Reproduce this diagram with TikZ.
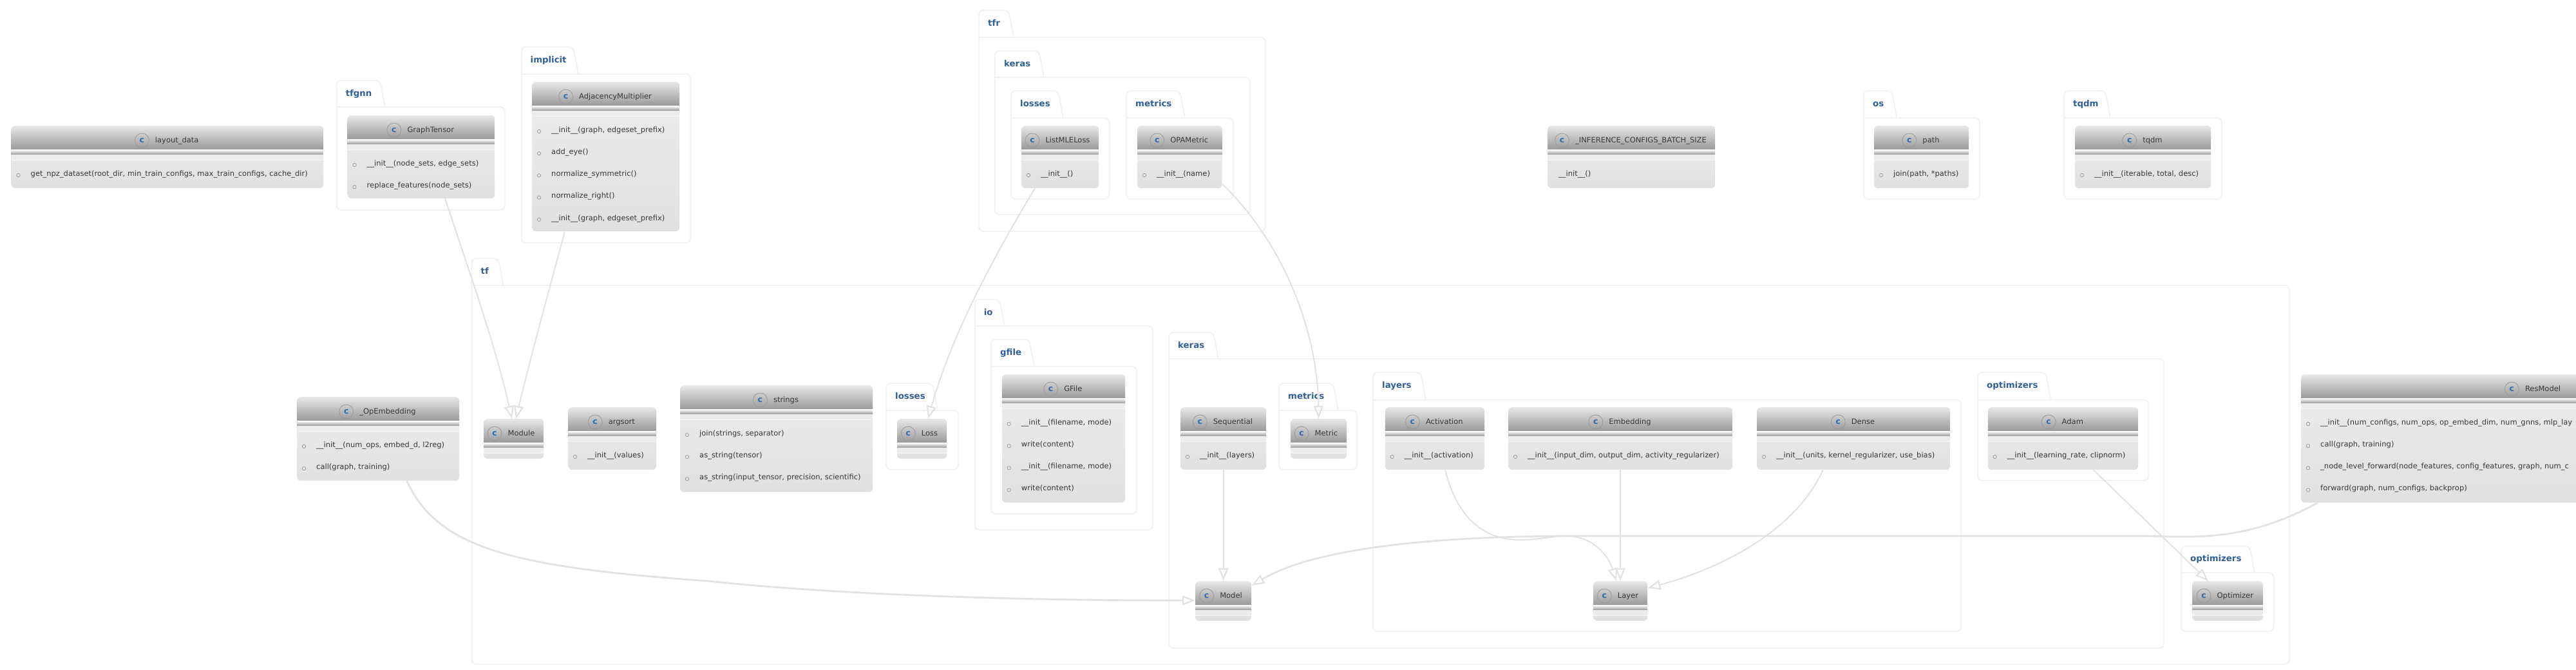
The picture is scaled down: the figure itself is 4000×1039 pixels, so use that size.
\documentclass[tikz,border=0pt]{standalone}
\usepackage{fontspec}
\setmainfont{DejaVu Sans}
\usepackage{xcolor}
\usetikzlibrary{arrows.meta,positioning}

\definecolor{pkgline}{HTML}{F2F2F2}
\definecolor{pkgtext}{HTML}{2F5F96}
\definecolor{edgeline}{HTML}{E2E2E2}
\definecolor{spotblue}{HTML}{2D6DB0}
\definecolor{labeltext}{HTML}{383838}

\newcommand{\umlpackage}[8]{
  \draw[pkgborder] (#4,#6) -- ({#4-8},#5) -- (#3,#5) -- (#3,#8) -- (#7,#8)
    -- (#7,#6) -- (#4,#6);
  \draw[pkgborder] (#3,#6) -- (#4,#6);
  \node[pkglabel] (#1) at ({#3+14},{(#5+#6)/2}) {#2};
}
\newcommand{\umlclass}[6]{
  \node[classbody, minimum width=#4pt, minimum height=#5pt] (#1) at (#2,#3) {};
  \pgfmathsetmacro{\titleoff}{#4<130 ? 12 : 15}
  \node[classtitle] (#1-title) at
    ([xshift={#4/2+\titleoff}, yshift=-23pt]#1.north west) {#6};
  \node[classspot, left=9pt of #1-title] (#1-spot) {c};
}
\newcommand{\umlmethods}[2]{
  \foreach \method [count=\row] in {#2} {
    \node[methodlabel] (#1-m\row) at
      ([xshift=30pt, yshift={-75-34.2*(\row-1)}]#1.north west) {\method};
    \node[methoddot] (#1-d\row) at
      ([xshift=11pt, yshift={-77-34.2*(\row-1)}]#1.north west) {};
  }
}

\begin{document}
\begin{tikzpicture}[
  x=1pt, y=-1pt,
  font=\fontsize{11.5}{13}\selectfont,
  pkgborder/.style={draw=pkgline, line width=2pt, rounded corners=7pt},
  pkglabel/.style={font=\fontsize{13.3}{15}\selectfont\bfseries, text=pkgtext,
    anchor=west, inner sep=0pt, text height=10pt, text depth=3pt},
  classbody/.style={anchor=north west, inner sep=0pt, rounded corners=6pt,
    top color=black!7, bottom color=black!12,
    path picture={
      \path[sharp corners] (path picture bounding box.north west) -- +(0,0);
      \shade[sharp corners, top color=black!9, bottom color=black!40]
        ([yshift=0pt]path picture bounding box.north west) rectangle
        ([yshift=-37pt]path picture bounding box.north east);
      \shade[sharp corners, top color=white, bottom color=black!42]
        ([yshift=-37pt]path picture bounding box.north west) rectangle
        ([yshift=-45pt]path picture bounding box.north east);
      \fill[sharp corners, black!7.5]
        ([yshift=-45pt]path picture bounding box.north west) rectangle
        ([yshift=-53pt]path picture bounding box.north east);
      \draw[sharp corners, black!4, line width=1pt]
        ([yshift=-53pt]path picture bounding box.north west) --
        ([yshift=-53pt]path picture bounding box.north east);
    }},
  classtitle/.style={text=labeltext, inner sep=0pt, text height=9pt, text depth=2.5pt},
  classspot/.style={circle, draw=black!40, line width=0.8pt, minimum size=22pt,
    inner sep=0pt, text=spotblue, font=\fontsize{12.5}{14}\selectfont\bfseries},
  methodlabel/.style={text=labeltext, anchor=west, inner sep=0pt,
    text height=9pt, text depth=2.5pt},
  methoddot/.style={circle, draw=black!45, line width=0.6pt, minimum size=5.5pt,
    inner sep=0pt},
  flow/.style={draw=edgeline, line width=2pt,
    -{Triangle[open, length=20pt, width=15pt, line width=2.3pt]}},
  heavyflow/.style={flow, line width=2.8pt}
]
\useasboundingbox (0,0) rectangle (4000,1039);
\clip (0,0) rectangle (4000,1039);

\umlpackage{pkgtfgnn}{tfgnn}{522.6}{598}{125}{166}{783.6}{326}
\umlpackage{pkgimplicit}{implicit}{809.5}{898}{73}{115}{1072.6}{377}
\umlpackage{pkgtfr}{tfr}{1520}{1574}{16}{58}{1965}{359}
\umlpackage{pkgtfrkeras}{keras}{1545}{1621}{79}{120}{1941}{333}
\umlpackage{pkgtfrlosses}{losses}{1570}{1651}{141}{183}{1722.5}{309}
\umlpackage{pkgtfrmetrics}{metrics}{1749}{1840}{141}{183}{1915}{309}
\umlpackage{pkgos}{os}{2894}{2945.4}{141}{183}{3074}{309}
\umlpackage{pkgtqdm}{tqdm}{3205}{3277}{141}{183}{3450}{309}
\umlpackage{pkgtf}{tf}{732.5}{781.6}{401}{443}{3555}{1031}
\umlpackage{pkglosses}{losses}{1376}{1456}{595}{637}{1488}{729}
\umlpackage{pkgio}{io}{1513.6}{1560}{465}{506}{1790}{822.5}
\umlpackage{pkggfile}{gfile}{1539}{1606}{527}{569}{1765}{797.5}
\umlpackage{pkgkeras}{keras}{1815}{1892}{516}{557}{3360}{1006}
\umlpackage{pkgmetrics}{metrics}{1986}{2078}{595}{637}{2107}{729}
\umlpackage{pkglayers}{layers}{2132}{2214}{578}{620.5}{3045}{980}
\umlpackage{pkgkerasopt}{optimizers}{3071}{3184.5}{578}{620.5}{3336}{746}
\umlpackage{pkgoptimizers}{optimizers}{3387}{3501}{847.5}{889}{3530.5}{980}

\umlclass{layoutdata}{17.5}{195}{484.5}{97}{layout\_data}
\umlmethods{layoutdata}{{get\_npz\_dataset(root\_dir, min\_train\_configs, max\_train\_configs, cache\_dir)}}
\umlclass{graphtensor}{539.5}{179}{228.5}{129}{GraphTensor}
\umlmethods{graphtensor}{{\_\_init\_\_(node\_sets, edge\_sets)},{replace\_features(node\_sets)}}
\umlclass{adjacency}{826}{127}{229}{232}{AdjacencyMultiplier}
\umlmethods{adjacency}{{\_\_init\_\_(graph, edgeset\_prefix)},{add\_eye()},{normalize\_symmetric()},{normalize\_right()},{\_\_init\_\_(graph, edgeset\_prefix)}}
\umlclass{listmle}{1586}{195}{120}{97}{ListMLELoss}
\umlmethods{listmle}{{\_\_init\_\_()}}
\umlclass{opametric}{1766}{195}{131.5}{97}{OPAMetric}
\umlmethods{opametric}{{\_\_init\_\_(name)}}
\umlclass{inference}{2403}{195}{260}{97}{\_INFERENCE\_CONFIGS\_BATCH\_SIZE}
\node[methodlabel] (inference-m1) at ([xshift=17pt, yshift=-75pt]inference.north west) {\_\_init\_\_()};
\umlclass{path}{2910}{195}{147}{97}{path}
\umlmethods{path}{{join(path, *paths)}}
\umlclass{tqdm}{3222}{195}{211}{97}{tqdm}
\umlmethods{tqdm}{{\_\_init\_\_(iterable, total, desc)}}

\umlclass{opembedding}{461}{616}{252}{130}{\_OpEmbedding}
\umlmethods{opembedding}{{\_\_init\_\_(num\_ops, embed\_d, l2reg)},{call(graph, training)}}
\umlclass{module}{751}{650}{93}{62}{Module}
\umlclass{argsort}{882}{632}{136.7}{97}{argsort}
\umlmethods{argsort}{{\_\_init\_\_(values)}}
\umlclass{strings}{1056}{598}{299}{165.5}{strings}
\umlmethods{strings}{{join(strings, separator)},{as\_string(tensor)},{as\_string(input\_tensor, precision, scientific)}}
\umlclass{loss}{1393}{650}{77}{62}{Loss}
\umlclass{gfileclass}{1555.7}{581}{191.3}{199}{GFile}
\umlmethods{gfileclass}{{\_\_init\_\_(filename, mode)},{write(content)},{\_\_init\_\_(filename, mode)},{write(content)}}
\umlclass{sequential}{1833}{632}{133}{97}{Sequential}
\umlmethods{sequential}{{\_\_init\_\_(layers)}}
\umlclass{metric}{2004}{650}{87}{62}{Metric}
\umlclass{activation}{2150.6}{632}{154.4}{97}{Activation}
\umlmethods{activation}{{\_\_init\_\_(activation)}}
\umlclass{embedding}{2342}{632}{348}{97}{Embedding}
\umlmethods{embedding}{{\_\_init\_\_(input\_dim, output\_dim, activity\_regularizer)}}
\umlclass{dense}{2728}{632}{300}{97}{Dense}
\umlmethods{dense}{{\_\_init\_\_(units, kernel\_regularizer, use\_bias)}}
\umlclass{adam}{3086.6}{632}{233.4}{97}{Adam}
\umlmethods{adam}{{\_\_init\_\_(learning\_rate, clipnorm)}}
\umlclass{model}{1856}{902}{87}{61.5}{Model}
\umlclass{layer}{2474}{902}{84}{61.5}{Layer}
\umlclass{optimizer}{3404}{902}{109.6}{61.5}{Optimizer}
\umlclass{resmodel}{3573}{581}{721}{199}{ResModel}
\umlmethods{resmodel}{{\_\_init\_\_(num\_configs, num\_ops, op\_embed\_dim, num\_gnns, mlp\_lay},{call(graph, training)},{\_node\_level\_forward(node\_features, config\_features, graph, num\_c},{forward(graph, num\_configs, backprop)}}

\draw[flow] ([xshift=151.5pt]graphtensor.south west) .. controls (735,440) and (770,540)
  .. ([xshift=44pt]module.north west);
\draw[flow] ([xshift=51pt]adjacency.south west) .. controls (850,460) and (825,550)
  .. ([xshift=50pt]module.north west);
\draw[flow] ([xshift=21pt]listmle.south west) .. controls (1530,420) and (1475,530)
  .. ([xshift=48pt]loss.north west);
\draw[flow] ([yshift=7pt]opametric.south east) .. controls (1985,370) and (2045,500)
  .. (metric.north);
\draw[heavyflow] ([xshift=170.5pt]opembedding.south west) .. controls (680,850) and (790,880)
  .. (1101,902) .. controls (1250,918) and (1500,932) .. ([yshift=-30pt]model.north west);
\draw[flow] (sequential.south) -- (model.north);
\draw[heavyflow] ([xshift=26pt]resmodel.south west) .. controls (3480,845) and (3400,832)
  .. (3320,832) -- (2450,832) .. controls (2300,832) and (2060,840) .. ([yshift=-7pt]model.north east);
\draw[flow] ([xshift=93.4pt]activation.south west) .. controls (2262,800) and (2300,838)
  .. (2361,838) .. controls (2390,838) and (2410,832) .. (2431,832)
  .. controls (2480,832) and (2500,870) .. ([xshift=36pt]layer.north west);
\draw[flow] ([xshift=174pt]embedding.south west) -- ([xshift=42pt]layer.north west);
\draw[flow] ([xshift=102.6pt]dense.south west) .. controls (2790,820) and (2680,880)
  .. ([yshift=-11pt]layer.north east);
\draw[flow] ([xshift=164pt]adam.south west) -- ([xshift=25pt]optimizer.north west);
\end{tikzpicture}
\end{document}
